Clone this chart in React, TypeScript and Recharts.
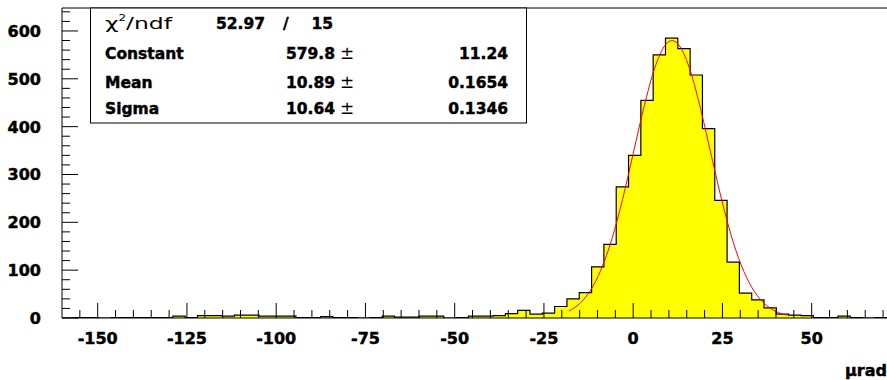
import React from 'react';
import { ComposedChart, Area, Line, XAxis, YAxis, ReferenceLine } from 'recharts';

// Histogram definition
const X_MIN = -160;
const X_MAX = 71.1;
const Y_MAX = 648;
const BIN_WIDTH = 3.45;

const binCounts = [
  0, 1, 1, 0, 1, 1, 1, 1, 1, 4,
  1, 5, 5, 4, 6, 6, 4, 4, 4, 1,
  1, 3, 1, 1, 0, 1, 4, 2, 2, 4,
  4, 0, 1, 4, 4, 5, 9, 16, 8, 10,
  24, 40, 53, 107, 154, 274, 340, 455, 550, 585,
  563, 508, 396, 246, 117, 52, 38, 21, 8, 6,
  5, 1, 1, 4, 1, 0, 1,
];

// Gaussian fit curve
const fitX = [-18, -15, -12, -9, -6, -3, 0, 3, 6, 9, 10.9, 13, 16, 19, 22, 25, 28, 31, 34, 37, 40, 43];
const fitY = [14.5, 30.0, 57.3, 101.1, 164.4, 247.3, 343.4, 440.4, 521.7, 570.7, 579.8, 568.5, 516.7, 433.6, 336.1, 240.6, 159.2, 97.2, 54.8, 28.6, 13.7, 6.1];

// Axis ticks
const xMajorTicks = [-150, -125, -100, -75, -50, -25, 0, 25, 50];
const xMinorStep = 5;
const yMajorTicks = [0, 100, 200, 300, 400, 500, 600];
const yMinorStep = 20;
const xTitle = 'µrad';

// Fit statistics box
const chi2Label = 'ndf';
const chi2Value = '52.97';
const ndfValue = '15';
const statNames = ['Constant', 'Mean', 'Sigma'];
const statValues = ['579.8', '10.89', '10.64'];
const statErrors = ['11.24', '0.1654', '0.1346'];

const histPoints: any[] = binCounts.map((c, i) => ({ x: X_MIN + i * BIN_WIDTH, hist: c }));
histPoints.push({ x: X_MIN + binCounts.length * BIN_WIDTH, hist: binCounts[binCounts.length - 1] });
const fitPoints = fitX.map((x, i) => ({ x, fit: fitY[i] }));
const data = [...histPoints, ...fitPoints].sort((a, b) => a.x - b.x);

const xTicks: number[] = [];
for (let v = -155; v <= 70; v += xMinorStep) xTicks.push(v);
const yTicks: number[] = [];
for (let v = 0; v <= 640; v += yMinorStep) yTicks.push(v);

// tick lengths in data units (px / px-per-unit of y scale: 310px / 648)
const Y_PX = 310 / Y_MAX;
const MAJOR_LEN = 15 / Y_PX;
const MINOR_LEN = 8 / Y_PX;

const FONT = 'DejaVu Sans';
const heavy = { fontFamily: FONT, fontWeight: 700 as any, fill: '#000', stroke: '#000', strokeWidth: 0.45 };

const XTick = (props: any) => {
  const { x, y, payload } = props;
  const v = payload.value;
  if (!xMajorTicks.includes(v)) return <g />;
  return (
    <text x={x} y={y + 26} textAnchor="middle" fontSize={16} {...heavy}>
      {String(v)}
    </text>
  );
};

const YTick = (props: any) => {
  const { x, y, payload } = props;
  const v = payload.value;
  const major = yMajorTicks.includes(v);
  return (
    <g>
      <line x1={x} y1={y} x2={x + (major ? 16 : 8)} y2={y} stroke="#000" strokeWidth={1} />
      {major && (
        <text x={x - 21} y={y + 6} textAnchor="end" fontSize={16} {...heavy}>
          {String(v)}
        </text>
      )}
    </g>
  );
};

const XTitle = (props: any) => {
  const vb = props.viewBox || {};
  return (
    <text x={vb.x + vb.width} y={vb.y + 58} textAnchor="end" fontSize={16} {...heavy}>
      {xTitle}
    </text>
  );
};

const StatsBox = () => {
  const rowY = [58.5, 88, 114];
  const b = { ...heavy, fontSize: 15.5 };
  return (
    <svg width={887} height={380} style={{ position: 'absolute', left: 0, top: 0, pointerEvents: 'none' }}>
      <rect x={90.5} y={8} width={436} height={115} fill="#fff" stroke="#000" strokeWidth={1} />
      <text x={105} y={28.5} fontFamily={FONT} fontSize={16} fill="#000" textLength={67} lengthAdjust="spacingAndGlyphs">
        χ<tspan fontSize={8} dy={-8}>2</tspan>
        <tspan dy={8}>{'/' + chi2Label}</tspan>
      </text>
      <text x={265} y={28.5} textAnchor="end" {...b}>{chi2Value}</text>
      <text x={283} y={28.5} {...b}>/</text>
      <text x={333} y={28.5} textAnchor="end" {...b}>{ndfValue}</text>
      {statNames.map((n, i) => (
        <g key={n}>
          <text x={105} y={rowY[i]} {...b}>{n}</text>
          <text x={335} y={rowY[i]} textAnchor="end" {...b}>{statValues[i]}</text>
          <text x={340} y={rowY[i]} fontFamily={FONT} fontSize={17} fill="#000">±</text>
          <text x={508} y={rowY[i]} textAnchor="end" {...b}>{statErrors[i]}</text>
        </g>
      ))}
    </svg>
  );
};

export default function App() {
  return (
    <div style={{ position: 'fixed', left: 0, top: 0, width: 887, height: 380, overflow: 'hidden', background: '#fff' }}>
      <ComposedChart width={887} height={380} data={data} margin={{ top: 8, right: 0, bottom: 0, left: 0 }}>
        <XAxis
          type="number"
          dataKey="x"
          domain={[X_MIN, X_MAX]}
          allowDataOverflow
          ticks={xTicks}
          interval={0}
          tickSize={0}
          tickMargin={0}
          tick={<XTick />}
          tickLine={false}
          axisLine={{ stroke: '#000', strokeWidth: 1 }}
          height={62}
          label={<XTitle />}
        />
        <YAxis
          type="number"
          domain={[0, Y_MAX]}
          allowDataOverflow
          ticks={yTicks}
          interval={0}
          tickSize={0}
          tickMargin={0}
          tick={<YTick />}
          tickLine={false}
          axisLine={{ stroke: '#000', strokeWidth: 1 }}
          width={62}
        />
        <Area
          dataKey="hist"
          type="stepAfter"
          stroke="#000"
          strokeWidth={1.2}
          fill="#ffff00"
          fillOpacity={1}
          connectNulls
          isAnimationActive={false}
          dot={false}
          activeDot={false}
        />
        <Line
          dataKey="fit"
          type="monotone"
          stroke="#ff0000"
          strokeWidth={1}
          connectNulls
          dot={false}
          activeDot={false}
          isAnimationActive={false}
        />
        {xTicks.map((v) => (
          <ReferenceLine
            key={'xt' + v}
            segment={[
              { x: v, y: 0 },
              { x: v, y: xMajorTicks.includes(v) ? MAJOR_LEN : MINOR_LEN },
            ]}
            stroke="#000"
            strokeWidth={1}
          />
        ))}
        <ReferenceLine y={Y_MAX} stroke="#000" strokeWidth={1} />
      </ComposedChart>
      <StatsBox />
    </div>
  );
}
